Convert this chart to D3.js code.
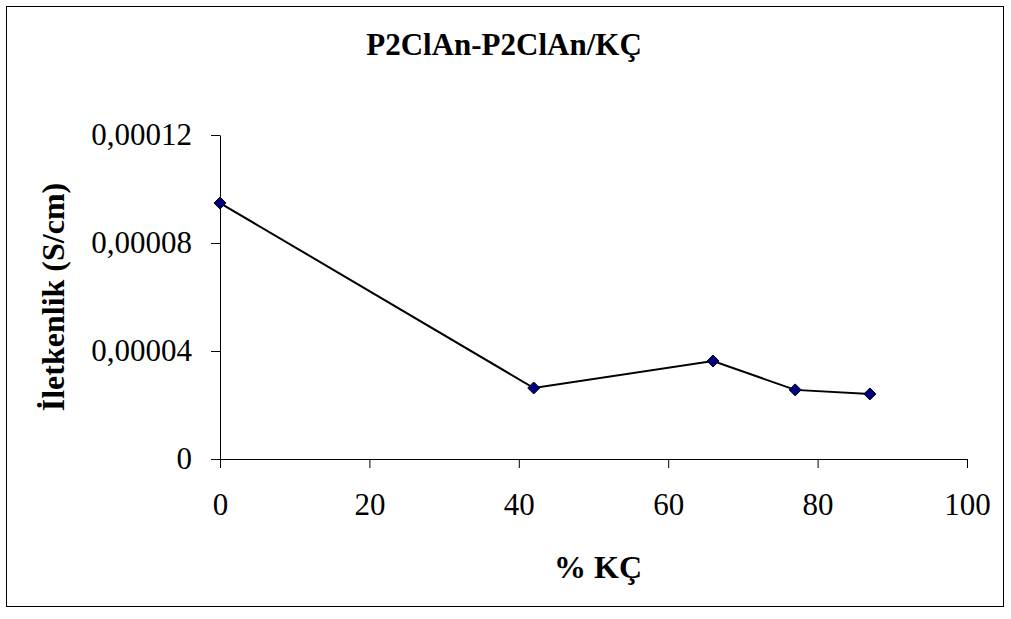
<!DOCTYPE html>
<html>
<head>
<meta charset="utf-8">
<script src="https://cdn.jsdelivr.net/npm/d3@7"></script>
<style>
  body { margin: 0; background: #fff; }
  text { font-family: "Liberation Serif", "Times New Roman", serif; }
</style>
</head>
<body>
<svg id="chart" width="1011" height="619"></svg>
<script>
// values
var kc = [0, 42, 66, 77, 87];
var iletkenlik = [0.0000948, 0.0000263, 0.0000363, 0.0000256, 0.0000241];
var xTicks = [0, 20, 40, 60, 80, 100];
var yTicks = [0, 0.00004, 0.00008, 0.00012];
var yTickLabels = ["0", "0,00004", "0,00008", "0,00012"];

var svg = d3.select("#chart");

// outer frame
svg.append("rect")
    .attr("x", 6.5).attr("y", 6.5)
    .attr("width", 997).attr("height", 600)
    .attr("fill", "#fff").attr("stroke", "#000").attr("stroke-width", 1);

var x = d3.scaleLinear().domain([0, 100]).range([220, 967]);
var y = d3.scaleLinear().domain([0, 0.00012]).range([459, 135]);

var xAxis = d3.axisBottom(x).tickValues(xTicks).tickSize(9).tickSizeOuter(0).tickPadding(25);
var yAxis = d3.axisLeft(y).tickValues(yTicks).tickSize(9).tickSizeOuter(0).tickPadding(19)
    .tickFormat(function(d, i) { return yTickLabels[i]; });

var gx = svg.append("g").attr("transform", "translate(0,459)").call(xAxis);
var gy = svg.append("g").attr("transform", "translate(220,0)").call(yAxis);

[gx, gy].forEach(function(g) {
  g.selectAll("path, line").attr("stroke", "#000").attr("stroke-width", 1);
  g.selectAll("text")
      .attr("fill", "#000")
      .style("font-size", "31px")
      .style("font-family", "'Liberation Serif', serif");
});

// line
var line = d3.line()
    .x(function(d, i) { return x(kc[i]); })
    .y(function(d) { return y(d); });

svg.append("path")
    .datum(iletkenlik)
    .attr("d", line)
    .attr("fill", "none")
    .attr("stroke", "#000")
    .attr("stroke-width", 2);

// diamond markers
svg.selectAll("path.marker")
    .data(iletkenlik)
    .enter()
    .append("path")
    .attr("class", "marker")
    .attr("d", "M0,-6L6,0L0,6L-6,0Z")
    .attr("transform", function(d, i) { return "translate(" + x(kc[i]) + "," + y(d) + ")"; })
    .attr("fill", "#000080")
    .attr("stroke", "#000")
    .attr("stroke-width", 1);

// titles
svg.append("text")
    .attr("x", 504).attr("y", 55)
    .attr("text-anchor", "middle")
    .style("font-size", "31px").style("font-weight", "bold")
    .text("P2ClAn-P2ClAn/KÇ");

svg.append("text")
    .attr("x", 598).attr("y", 578)
    .attr("text-anchor", "middle")
    .style("font-size", "32px").style("font-weight", "bold")
    .text("% KÇ");

svg.append("text")
    .attr("transform", "translate(64,297) rotate(-90)")
    .attr("text-anchor", "middle")
    .style("font-size", "32px").style("font-weight", "bold")
    .text("İletkenlik (S/cm)");
</script>
</body>
</html>
